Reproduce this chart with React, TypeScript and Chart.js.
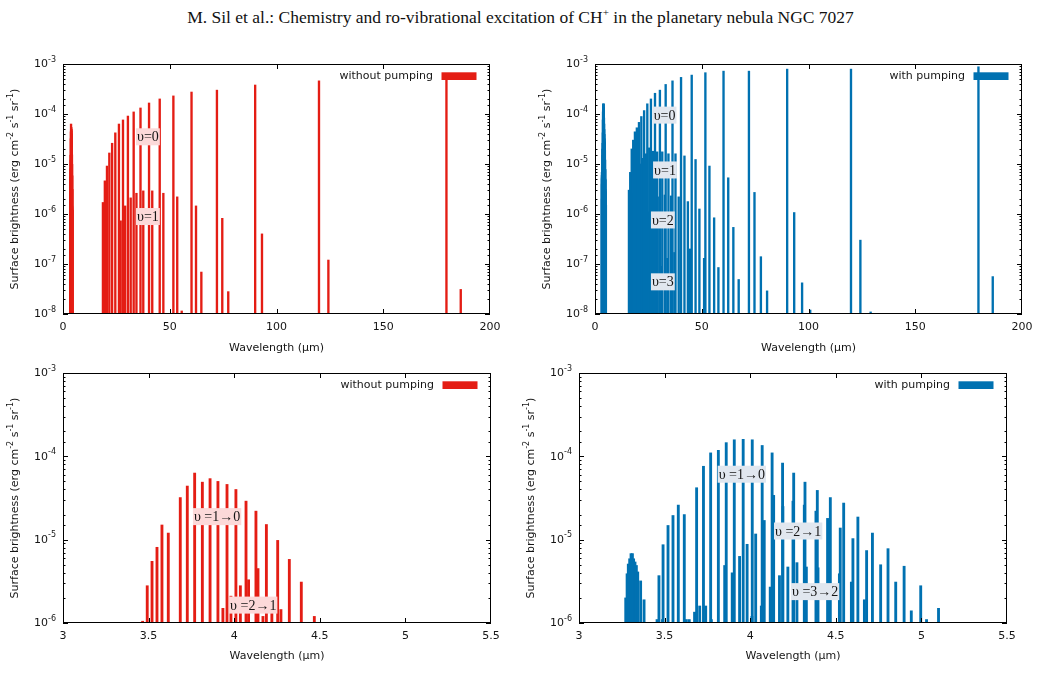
import { useEffect, useRef } from 'react';
import { Chart, registerables } from 'chart.js';

Chart.register(...registerables);

const RED = '#e41d14';
const BLUE = '#0071b1';
const SANS = '"DejaVu Sans", sans-serif';
const SERIF = '"Liberation Serif", "Times New Roman", serif';
const INK = '#151515';

// ---------- Pure rotational lines, without pumping (wavelength in µm, brightness) ----------
const rotNoPumpV0Wl = [179.6, 119.9, 90.0, 72.1, 60.2, 51.7, 45.3, 40.3, 36.3, 33.1, 30.4, 28.1, 26.2, 24.5, 23.0, 21.7, 20.6, 19.6, 18.7];
const rotNoPumpV0 = [6.0e-4, 4.6e-4, 3.8e-4, 3.0e-4, 2.75e-4, 2.3e-4, 2.0e-4, 1.66e-4, 1.32e-4, 1.1e-4, 9.1e-5, 7.6e-5, 6.3e-5, 4.2e-5, 2.6e-5, 1.66e-5, 9.1e-6, 4.6e-6, 1.7e-6];
const rotNoPumpV1Wl = [186.3, 124.3, 93.2, 74.6, 62.3, 53.5, 47.0, 41.8, 37.6, 34.4, 31.7, 29.1, 27.0];
const rotNoPumpV1 = [3.1e-8, 1.2e-7, 4.0e-7, 8.2e-7, 1.45e-6, 2.2e-6, 2.6e-6, 2.9e-6, 2.9e-6, 2.6e-6, 2.1e-6, 1.45e-6, 7.3e-7];
const rotNoPumpV2Wl = [77.4, 64.8, 55.6];
const rotNoPumpV2 = [2.8e-8, 6.9e-8, 1.15e-8];

// ---------- Pure rotational lines, with pumping ----------
const rotPumpV0Wl = [179.6, 119.9, 90.0, 72.1, 60.2, 51.7, 45.3, 40.3, 36.3, 33.1, 30.4, 28.1, 26.2, 24.5, 23.0, 21.7, 20.6, 19.6, 18.7, 17.9, 17.2, 16.5, 15.9];
const rotPumpV0 = [8.8e-4, 7.9e-4, 7.9e-4, 7.2e-4, 7.2e-4, 6.7e-4, 6.0e-4, 5.4e-4, 4.6e-4, 3.9e-4, 3.0e-4, 2.6e-4, 2.0e-4, 1.6e-4, 1.17e-4, 8.9e-5, 6.8e-5, 5.3e-5, 4.4e-5, 3.0e-5, 2.0e-5, 6.8e-6, 3.0e-6];
const rotPumpV1Wl = [186.3, 124.3, 93.3, 74.7, 62.4, 53.6, 47.1, 41.9, 37.7, 34.4, 31.5, 29.1, 27.1, 25.4, 23.8, 22.5, 21.3, 20.3, 19.4, 18.6, 17.8, 17.1];
const rotPumpV1 = [5.6e-8, 3.0e-7, 1.07e-6, 2.7e-6, 5.3e-6, 9.1e-6, 1.23e-5, 1.45e-5, 1.6e-5, 1.6e-5, 1.75e-5, 1.75e-5, 1.8e-5, 2.1e-5, 1.6e-5, 1.3e-5, 1.0e-5, 7.5e-6, 5.5e-6, 4.0e-6, 2.5e-6, 1.5e-6];
const rotPumpV2Wl = [129.1, 97.0, 77.7, 64.8, 55.8, 48.9, 43.5, 39.2, 35.6, 32.7, 30.1, 28.0, 26.4, 24.7, 23.3, 22.0, 20.9];
const rotPumpV2 = [1.1e-8, 4.2e-8, 1.4e-7, 5.4e-7, 8.4e-7, 1.26e-6, 1.77e-6, 2.2e-6, 2.3e-6, 2.4e-6, 2.2e-6, 1.9e-6, 1.5e-6, 1.1e-6, 7.0e-7, 4.5e-7, 2.8e-7];
const rotPumpV3Wl = [100.8, 80.6, 67.3, 57.8, 51.1, 44.5, 40.2, 37.2, 33.9, 31.2];
const rotPumpV3 = [1.2e-8, 2.9e-8, 4.9e-8, 8.5e-8, 1.3e-7, 2.0e-7, 1.9e-7, 1.7e-7, 1.3e-7, 9.0e-8];

// ---------- Ro-vibrational lines, without pumping ----------
const vib10NoPumpWl = [3.465, 3.492, 3.520, 3.549, 3.578, 3.615, 3.685, 3.726, 3.769, 3.814, 3.859, 3.905, 3.958, 4.010, 4.069, 4.127, 4.188, 4.254, 4.322, 4.392, 4.468];
const vib10NoPump = [1.05e-6, 2.8e-6, 5.5e-6, 8.1e-6, 1.5e-5, 1.2e-5, 3.2e-5, 4.4e-5, 6.3e-5, 4.9e-5, 5.4e-5, 5.0e-5, 4.6e-5, 4.0e-5, 2.9e-5, 2.2e-5, 1.52e-5, 9.8e-6, 5.8e-6, 3.1e-6, 1.2e-6];
const vib21NoPumpWl = [3.934, 3.981, 4.036, 4.084, 4.139, 4.168, 4.220, 4.273];
const vib21NoPump = [1.5e-6, 2.1e-6, 2.8e-6, 3.3e-6, 4.5e-6, 1.2e-6, 1.35e-6, 1.45e-6];

// ---------- Ro-vibrational lines, with pumping ----------
const vib10PumpWl = [3.456, 3.467, 3.491, 3.520, 3.549, 3.580, 3.615, 3.687, 3.727, 3.769, 3.814, 3.860, 3.907, 3.959, 4.012, 4.070, 4.128, 4.189, 4.254, 4.320, 4.392, 4.468, 4.546, 4.629, 4.714, 4.805, 4.899, 4.996, 5.100];
const vib10Pump = [1.1e-6, 3.7e-6, 8.7e-6, 1.48e-5, 1.95e-5, 2.6e-5, 2.0e-5, 4.2e-5, 7.6e-5, 1.1e-4, 1.18e-4, 1.46e-4, 1.58e-4, 1.6e-4, 1.58e-4, 1.35e-4, 1.1e-4, 8.3e-5, 6.3e-5, 4.9e-5, 3.9e-5, 3.2e-5, 2.75e-5, 1.87e-5, 1.2e-5, 7.8e-6, 4.8e-6, 2.8e-6, 1.5e-6];
const vib21PumpWl = [3.627, 3.644, 3.675, 3.705, 3.740, 3.773, 3.851, 3.895, 3.938, 3.982, 4.032, 4.082, 4.137, 4.191, 4.250, 4.316, 4.384, 4.452, 4.526, 4.600, 4.680, 4.762, 4.850, 4.941, 5.030];
const vib21Pump = [1.1e-6, 1.1e-6, 1.35e-6, 1.6e-6, 1.6e-6, 1.1e-6, 4.9e-6, 4.0e-6, 6.3e-6, 8.8e-6, 1.17e-5, 1.7e-5, 3.4e-5, 2.5e-5, 2.9e-5, 2.6e-5, 2.2e-5, 1.8e-5, 1.38e-5, 1.03e-5, 7.4e-6, 5.0e-6, 3.1e-6, 1.4e-6, 1.1e-6];
const vib32PumpWl = [3.488, 4.010, 4.065, 4.117, 4.171, 4.220, 4.273, 4.328, 4.396, 4.458, 4.521, 4.591, 4.667];
const vib32Pump = [1.1e-6, 1.2e-6, 1.6e-6, 2.7e-6, 3.7e-6, 4.7e-6, 5.3e-6, 4.7e-6, 4.6e-6, 4.4e-6, 3.9e-6, 3.1e-6, 1.9e-6];
const hotPumpWl = [3.273, 3.281, 3.288, 3.296, 3.304, 3.312, 3.319, 3.327, 3.335, 3.343, 3.360, 3.380];
const hotPump = [2.0e-6, 3.9e-6, 5.1e-6, 5.9e-6, 6.8e-6, 6.8e-6, 5.9e-6, 5.4e-6, 4.9e-6, 4.1e-6, 3.2e-6, 1.9e-6];

const TITLE_A = 'M. Sil et al.: Chemistry and ro-vibrational excitation of CH';
const TITLE_B = ' in the planetary nebula NGC 7027';
// Axis title pieces: [text, isSuperscript]
const Y_TITLE: [string, boolean][] = [
  ['Surface brightness (erg cm', false], ['-2', true],
  [' s', false], ['-1', true],
  [' sr', false], ['-1', true],
  [')', false],
];
const X_TITLE = 'Wavelength (µm)';

type Band = { wl: number[]; val: number[] };
type Note = { x: number; y: number; text: string };
type PanelSpec = {
  left: number; top: number; width: number; height: number;
  padTop: number; padRight: number; xAxisHeight: number;
  xMin: number; xMax: number; xStep: number;
  yMin: number; yMax: number;
  color: string; legend: string; noteBg: string; barWidth: number;
  bands: Band[]; notes: Note[];
};

function isDecade(v: number) {
  const e = Math.log10(v);
  return Math.abs(e - Math.round(e)) < 1e-6;
}

const panels: PanelSpec[] = [
  {
    left: 0, top: 40, width: 520, height: 315, padTop: 24, padRight: 30, xAxisHeight: 41,
    xMin: 0, xMax: 200, xStep: 50, yMin: 1e-8, yMax: 1e-3,
    color: RED, legend: 'without pumping', noteBg: '#fcd9d9', barWidth: 1.7,
    bands: [
      { wl: rotNoPumpV0Wl, val: rotNoPumpV0 },
      { wl: rotNoPumpV1Wl, val: rotNoPumpV1 },
      { wl: rotNoPumpV2Wl, val: rotNoPumpV2 },
      { wl: vib10NoPumpWl, val: vib10NoPump },
      { wl: vib21NoPumpWl, val: vib21NoPump },
    ],
    notes: [
      { x: 34.2, y: 3.5e-5, text: 'υ=0' },
      { x: 34.2, y: 8.9e-7, text: 'υ=1' },
    ],
  },
  {
    left: 532, top: 40, width: 509, height: 315, padTop: 24, padRight: 19, xAxisHeight: 41,
    xMin: 0, xMax: 200, xStep: 50, yMin: 1e-8, yMax: 1e-3,
    color: BLUE, legend: 'with pumping', noteBg: '#e1e7ef', barWidth: 1.7,
    bands: [
      { wl: rotPumpV0Wl, val: rotPumpV0 },
      { wl: rotPumpV1Wl, val: rotPumpV1 },
      { wl: rotPumpV2Wl, val: rotPumpV2 },
      { wl: rotPumpV3Wl, val: rotPumpV3 },
      { wl: vib10PumpWl, val: vib10Pump },
      { wl: vib21PumpWl, val: vib21Pump },
      { wl: vib32PumpWl, val: vib32Pump },
      { wl: hotPumpWl, val: hotPump },
    ],
    notes: [
      { x: 27.0, y: 9.5e-5, text: 'υ=0' },
      { x: 27.2, y: 7.6e-6, text: 'υ=1' },
      { x: 26.2, y: 7.6e-7, text: 'υ=2' },
      { x: 26.2, y: 4.4e-8, text: 'υ=3' },
    ],
  },
  {
    left: 0, top: 350, width: 520, height: 313, padTop: 23, padRight: 29, xAxisHeight: 40,
    xMin: 3, xMax: 5.5, xStep: 0.5, yMin: 1e-6, yMax: 1e-3,
    color: RED, legend: 'without pumping', noteBg: '#fcd9d9', barWidth: 2.2,
    bands: [
      { wl: vib10NoPumpWl, val: vib10NoPump },
      { wl: vib21NoPumpWl, val: vib21NoPump },
    ],
    notes: [
      { x: 3.759, y: 1.89e-5, text: 'υ =1→0' },
      { x: 3.970, y: 1.64e-6, text: 'υ =2→1' },
    ],
  },
  {
    left: 516, top: 350, width: 525, height: 313, padTop: 23, padRight: 34, xAxisHeight: 40,
    xMin: 3, xMax: 5.5, xStep: 0.5, yMin: 1e-6, yMax: 1e-3,
    color: BLUE, legend: 'with pumping', noteBg: '#e1e7ef', barWidth: 2.2,
    bands: [
      { wl: vib10PumpWl, val: vib10Pump },
      { wl: vib21PumpWl, val: vib21Pump },
      { wl: vib32PumpWl, val: vib32Pump },
      { wl: hotPumpWl, val: hotPump },
    ],
    notes: [
      { x: 3.810, y: 6.1e-5, text: 'υ =1→0' },
      { x: 4.139, y: 1.27e-5, text: 'υ =2→1' },
      { x: 4.238, y: 2.38e-6, text: 'υ =3→2' },
    ],
  },
];

function Panel({ spec }: { spec: PanelSpec }) {
  const ref = useRef<HTMLCanvasElement | null>(null);

  useEffect(() => {
    const canvas = ref.current;
    if (!canvas) return;

    // Inward tick marks on all four sides plus the plot frame
    const frame = {
      id: 'frame',
      afterDatasetsDraw(chart: any) {
        const { ctx, chartArea: a } = chart;
        const xs = chart.scales.x;
        const ys = chart.scales.y;
        ctx.save();
        ctx.strokeStyle = '#000';
        ctx.lineWidth = 1;
        ctx.beginPath();
        for (const t of xs.ticks) {
          const px = Math.round(xs.getPixelForValue(t.value)) + 0.5;
          if (px <= a.left + 2 || px >= a.right - 2) continue;
          ctx.moveTo(px, a.bottom);
          ctx.lineTo(px, a.bottom - 5);
          ctx.moveTo(px, a.top);
          ctx.lineTo(px, a.top + 5);
        }
        for (const t of ys.ticks) {
          const py = Math.round(ys.getPixelForValue(t.value)) + 0.5;
          const len = isDecade(t.value) ? 5 : 2.5;
          ctx.moveTo(a.left, py);
          ctx.lineTo(a.left + len, py);
          ctx.moveTo(a.right, py);
          ctx.lineTo(a.right - len, py);
        }
        ctx.stroke();
        ctx.strokeRect(a.left + 0.5, a.top + 0.5, a.right - a.left - 1, a.bottom - a.top - 1);
        ctx.restore();
      },
    };

    // Decade labels (10 with a raised exponent) and the rotated y title
    const yText = {
      id: 'yText',
      afterDraw(chart: any) {
        const { ctx, chartArea: a } = chart;
        const ys = chart.scales.y;
        ctx.save();
        ctx.fillStyle = INK;
        ctx.textBaseline = 'middle';
        ctx.textAlign = 'left';
        for (const t of ys.ticks) {
          if (!isDecade(t.value)) continue;
          const py = ys.getPixelForValue(t.value);
          const exp = String(Math.round(Math.log10(t.value)));
          ctx.font = `8px ${SANS}`;
          const we = ctx.measureText(exp).width;
          ctx.font = `11px ${SANS}`;
          const wb = ctx.measureText('10').width;
          const right = a.left - 7;
          ctx.fillText('10', right - we - wb, py + 0.5);
          ctx.font = `8px ${SANS}`;
          ctx.fillText(exp, right - we, py - 4.5);
        }
        // rotated title made of normal and superscript pieces
        const pieces = Y_TITLE.map(([s, sup]) => {
          ctx.font = `${sup ? 8 : 11}px ${SANS}`;
          return { s, sup, w: ctx.measureText(s).width };
        });
        const total = pieces.reduce((acc, p) => acc + p.w, 0);
        ctx.translate(ys.left + 15, (a.top + a.bottom) / 2);
        ctx.rotate(-Math.PI / 2);
        let x = -total / 2;
        for (const p of pieces) {
          ctx.font = `${p.sup ? 8 : 11}px ${SANS}`;
          ctx.fillText(p.s, x, p.sup ? -4 : 0);
          x += p.w;
        }
        ctx.restore();
      },
    };

    // Band labels with a tinted box behind the text
    const notes = {
      id: 'notes',
      afterDatasetsDraw(chart: any) {
        const { ctx } = chart;
        const xs = chart.scales.x;
        const ys = chart.scales.y;
        ctx.save();
        ctx.font = `14px ${SERIF}`;
        ctx.textAlign = 'left';
        ctx.textBaseline = 'middle';
        for (const n of spec.notes) {
          const px = xs.getPixelForValue(n.x);
          const py = ys.getPixelForValue(n.y);
          const w = ctx.measureText(n.text).width;
          ctx.fillStyle = spec.noteBg;
          ctx.fillRect(px, py - 8.5, w + 2, 17);
          ctx.fillStyle = INK;
          ctx.fillText(n.text, px + 1, py + 1);
        }
        ctx.restore();
      },
    };

    // Key in the upper right corner: text followed by a filled sample
    const key = {
      id: 'key',
      afterDraw(chart: any) {
        const { ctx, chartArea: a } = chart;
        const ds = chart.data.datasets[0];
        const x1 = a.right - 13.5;
        const x0 = x1 - 35;
        ctx.save();
        ctx.fillStyle = ds.backgroundColor;
        ctx.fillRect(x0, a.top + 8.3, 35, 7.7);
        ctx.font = `11px ${SANS}`;
        ctx.fillStyle = INK;
        ctx.textAlign = 'right';
        ctx.textBaseline = 'middle';
        ctx.fillText(ds.label, x0 - 8.5, a.top + 12.5);
        ctx.restore();
      },
    };

    const datasets = spec.bands.map((b, i) => ({
      type: 'bar' as const,
      label: i === 0 ? spec.legend : '',
      data: b.val.map((v, k) => ({ x: b.wl[k], y: v })),
      backgroundColor: spec.color,
      borderWidth: 0,
      barThickness: spec.barWidth,
      grouped: false,
    }));

    const chart = new Chart(canvas, {
      type: 'bar',
      data: { datasets },
      options: {
        responsive: false,
        animation: false,
        events: [],
        devicePixelRatio: 1,
        layout: { padding: { left: 0, top: spec.padTop, right: spec.padRight, bottom: 0 } },
        plugins: { legend: { display: false }, tooltip: { enabled: false }, title: { display: false } },
        scales: {
          x: {
            type: 'linear',
            min: spec.xMin,
            max: spec.xMax,
            offset: false,
            grid: { display: false, drawTicks: false },
            border: { display: false },
            ticks: {
              stepSize: spec.xStep,
              autoSkip: false,
              maxRotation: 0,
              padding: 7,
              color: INK,
              font: { family: SANS, size: 11 },
              callback: (v: any) => String(Number(v)),
            },
            title: {
              display: true,
              text: X_TITLE,
              color: INK,
              font: { family: SANS, size: 11 },
              padding: { top: 0, bottom: 0 },
            },
            afterFit: (scale: any) => {
              scale.height = spec.xAxisHeight;
            },
          },
          y: {
            type: 'logarithmic',
            min: spec.yMin,
            max: spec.yMax,
            grid: { display: false, drawTicks: false },
            border: { display: false },
            ticks: {
              autoSkip: false,
              display: false,
            },
            title: { display: false },
            afterFit: (scale: any) => {
              scale.width = 63;
            },
          },
        },
      },
      plugins: [frame, notes, yText, key],
    } as any);

    return () => chart.destroy();
  }, [spec]);

  return (
    <canvas
      ref={ref}
      width={spec.width}
      height={spec.height}
      style={{ position: 'absolute', left: spec.left, top: spec.top, width: spec.width, height: spec.height }}
    />
  );
}

export default function App() {
  return (
    <div style={{ position: 'absolute', left: 0, top: 0, width: 1041, height: 683, background: '#fff', overflow: 'hidden' }}>
      <div
        style={{
          position: 'absolute', left: 0, top: 7, width: 1041, textAlign: 'center',
          fontFamily: SERIF, fontSize: 17.5, lineHeight: '20px', color: '#111',
        }}
      >
        {TITLE_A}
        <span style={{ fontSize: 11, position: 'relative', top: -7 }}>+</span>
        {TITLE_B}
      </div>
      {panels.map((p, i) => (
        <Panel key={i} spec={p} />
      ))}
    </div>
  );
}
